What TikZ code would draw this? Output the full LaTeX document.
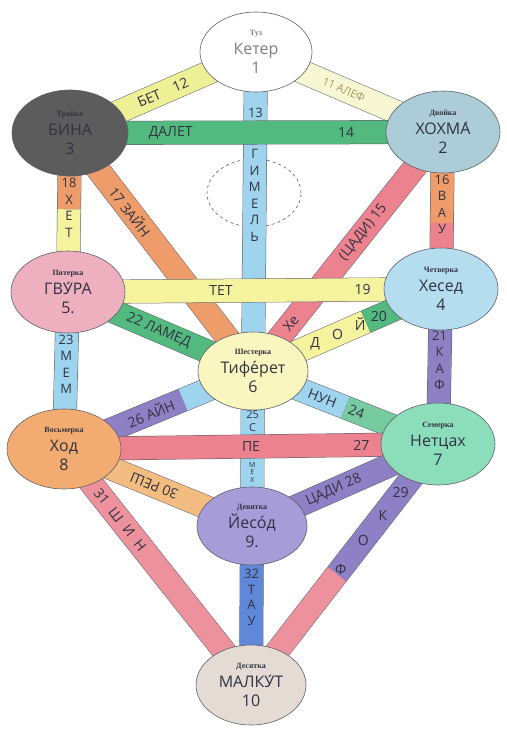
\documentclass[tikz,border=0pt]{standalone}
\usepackage{fontspec}
\setmainfont{Liberation Serif}
\newfontfamily\handfont{Open Sans}
\usetikzlibrary{
  shapes.geometric,
  backgrounds,
  calc
}
\definecolor{inkgray}{RGB}{95,95,105}
\definecolor{handink}{RGB}{50,50,65}
\definecolor{keterink}{RGB}{125,125,135}
\definecolor{alefink}{RGB}{165,155,95}
\definecolor{keterfill}{RGB}{255,255,255}
\definecolor{binafill}{RGB}{92,92,92}
\definecolor{hokhmafill}{RGB}{172,204,216}
\definecolor{hesedfill}{RGB}{180,222,240}
\definecolor{gevurafill}{RGB}{238,176,190}
\definecolor{tiferetfill}{RGB}{250,246,192}
\definecolor{netzahfill}{RGB}{140,222,186}
\definecolor{hodfill}{RGB}{242,172,114}
\definecolor{yesodfill}{RGB}{166,156,216}
\definecolor{malkutfill}{RGB}{228,220,212}
\definecolor{alefcol}{RGB}{247,247,212}
\definecolor{betcol}{RGB}{238,240,150}
\definecolor{skycol}{RGB}{158,212,238}
\definecolor{greencol}{RGB}{82,186,126}
\definecolor{hecol}{RGB}{236,130,142}
\definecolor{orangecol}{RGB}{238,156,106}
\definecolor{yellowcol}{RGB}{246,243,158}
\definecolor{purplecol}{RGB}{142,128,196}
\definecolor{mintcol}{RGB}{118,204,160}
\definecolor{reshcol}{RGB}{243,188,128}
\definecolor{shincol}{RGB}{237,146,156}
\definecolor{taucol}{RGB}{96,136,216}
\tikzset{
  sephira/.style={
    ellipse, draw=inkgray, fill=#1, line width=0.6pt,
    minimum width=114pt, minimum height=82pt, inner sep=0pt,
    align=center, text=handink,
    font=\handfont\fontsize{16}{19}\selectfont
  },
  channel/.style={
    draw=inkgray, line width=0.5pt,
    double=#1, double distance=23pt
  },
  chanlabel/.style={
    font=\handfont\fontsize{14}{16}\selectfont,
    text=handink, inner sep=1pt
  },
  stacklabel/.style={
    chanlabel, align=center,
    font=\handfont\fontsize{13}{16.5}\selectfont
  },
  daatring/.style={
    ellipse, draw=inkgray, dashed, line width=0.6pt,
    minimum width=94pt, minimum height=68pt
  },
}
\newcommand{\sephtitle}[1]{{\rmfamily\bfseries\fontsize{8}{9}\selectfont #1}}

\begin{document}
\begin{tikzpicture}[x=1pt, y=-1pt]
  \useasboundingbox (0,0) rectangle (506,733);

  %% Sephirot
  \node[sephira=keterfill, text=keterink, minimum width=112pt, minimum height=80pt] (K1) at (256,52)
    {\sephtitle{Туз}\\Кетер\\1};
  \node[sephira=hokhmafill] (H2) at (443,132) {\sephtitle{Двойка}\\ХОХМА́\\2};
  \node[sephira=binafill, minimum width=116pt, minimum height=86pt] (B3) at (70,133)
    {\sephtitle{Тройка}\\БИНА\\3};
  \node[sephira=hesedfill] (C4) at (441,289) {\sephtitle{Четверка}\\Хесед\\4};
  \node[sephira=gevurafill] (G5) at (68,292) {\sephtitle{Пятерка}\\ГВУ́РА\\5.};
  \node[sephira=tiferetfill, minimum width=110pt, minimum height=78pt] (T6) at (253,371)
    {\sephtitle{Шестерка}\\Тифе́рет\\6};
  \node[sephira=netzahfill] (N7) at (438,444) {\sephtitle{Семерка}\\Нетцах\\7};
  \node[sephira=hodfill, minimum height=80pt] (O8) at (64,449) {\sephtitle{Восьмерка}\\Ход\\8};
  \node[sephira=yesodfill, minimum width=110pt, minimum height=78pt] (Y9) at (252,526)
    {\sephtitle{Девятка}\\Йесо́д\\9.};
  \node[sephira=malkutfill, minimum width=110pt, minimum height=80pt] (M10) at (251,685)
    {\sephtitle{Десятка}\\МАЛКУ́Т\\10};

  %% split points of two-coloured paths
  \coordinate (khetmid) at ($(B3)!0.48!(G5)$);
  \coordinate (vavmid) at ($(H2)!0.58!(C4)$);
  \coordinate (yodmid) at ($(T6)!0.6!(C4)$);
  \coordinate (nunmid) at ($(T6)!0.5!(N7)$);
  \coordinate (ayinmid) at ($(O8)!0.63!(T6)$);
  \coordinate (qofmid) at ($(N7)!0.54!(M10)$);

  \begin{scope}[on background layer]
    \node[daatring] (daat) at (254,193) {};

    %% upper paths
    \draw[channel=skycol] (K1.center) -- (T6.center)
      node[stacklabel, pos=0.19] {13}
      node[stacklabel, pos=0.45] {Г\\И\\М\\Е\\Л\\Ь};
    \draw[channel=orangecol] (B3.center) -- (T6.center)
      node[chanlabel, sloped, pos=0.33] {17 ЗАЙН};
    \draw[channel=hecol] (H2.center) -- (T6.center)
      node[chanlabel, sloped, pos=0.42] {(ЦАДИ) 15}
      node[chanlabel, sloped, pos=0.8] {Хе};
    \draw[channel=alefcol] (K1.center) -- (H2.center)
      node[chanlabel, sloped, pos=0.47, text=alefink, font=\handfont\fontsize{11}{13}\selectfont] {11 АЛЕФ};
    \draw[channel=betcol] (K1.center) -- (B3.center)
      node[chanlabel, sloped, pos=0.5] {БЕТ\quad 12};
    \draw[channel=greencol] (B3.center) -- (H2.center)
      node[chanlabel, pos=0.27] {ДАЛЕТ}
      node[chanlabel, pos=0.74] {14};

    %% Khet and Vav
    \draw[channel=orangecol] (B3.center) -- (khetmid);
    \draw[channel=yellowcol] (khetmid) -- (G5.center);
    \path (B3.center) -- (G5.center) node[stacklabel, pos=0.47] {18\\Х\\Е\\Т};
    \draw[channel=orangecol] (H2.center) -- (vavmid);
    \draw[channel=hecol] (vavmid) -- (C4.center);
    \path (H2.center) -- (C4.center) node[stacklabel, pos=0.46] {16\\В\\А\\У};

    %% middle paths
    \draw[channel=yellowcol] (G5.center) -- (C4.center)
      node[chanlabel, pos=0.41] {ТЕТ}
      node[chanlabel, pos=0.79] {19};
    \draw[channel=greencol] (G5.center) -- (T6.center)
      node[chanlabel, sloped, pos=0.49] {22 ЛАМЕД};
    \draw[channel=yellowcol] (T6.center) -- (yodmid);
    \draw[channel=greencol] (yodmid) -- (C4.center);
    \path (T6.center) -- (C4.center)
      node[chanlabel, pos=0.33] {Д}
      node[chanlabel, pos=0.45] {О}
      node[chanlabel, pos=0.57] {Й}
      node[chanlabel, pos=0.67] {20};
    \draw[channel=skycol] (G5.center) -- (O8.center)
      node[stacklabel, pos=0.46] {23\\М\\Е\\М};
    \draw[channel=purplecol] (C4.center) -- (N7.center)
      node[stacklabel, pos=0.46] {21\\К\\А\\Ф};
    \draw[channel=skycol] (T6.center) -- (nunmid);
    \draw[channel=mintcol] (nunmid) -- (N7.center);
    \path (T6.center) -- (N7.center)
      node[chanlabel, sloped, pos=0.45] {НУН\quad 24};
    \draw[channel=purplecol] (O8.center) -- (ayinmid);
    \draw[channel=skycol] (ayinmid) -- (T6.center);
    \path (O8.center) -- (T6.center)
      node[chanlabel, sloped, pos=0.46] {26 АЙН};

    %% lower paths
    \draw[channel=skycol] (T6.center) -- (Y9.center)
      node[stacklabel, pos=0.32, font=\handfont\fontsize{11}{13}\selectfont] {25\\С}
      node[stacklabel, pos=0.63, font=\handfont\fontsize{7}{7.5}\selectfont] {А\\М\\Е\\Х};
    \draw[channel=hecol] (O8.center) -- (N7.center)
      node[chanlabel, pos=0.5] {ПЕ}
      node[chanlabel, pos=0.795] {27};
    \draw[channel=purplecol] (Y9.center) -- (N7.center)
      node[chanlabel, sloped, pos=0.44] {ЦАДИ 28};
    \draw[channel=reshcol] (O8.center) -- (Y9.center)
      node[chanlabel, pos=0.48, rotate=158] {30 РЕШ};
    \draw[channel=shincol] (O8.center) -- (M10.center)
      node[chanlabel, sloped, pos=0.3] {31\;\;Ш\;\;И\;\;Н};
    \draw[channel=purplecol] (N7.center) -- (qofmid);
    \draw[channel=shincol] (qofmid) -- (M10.center);
    \path (N7.center) -- (M10.center)
      node[chanlabel, pos=0.2] {29}
      node[chanlabel, pos=0.295] {К}
      node[chanlabel, pos=0.4] {О}
      node[chanlabel, pos=0.52] {Ф};
    \draw[channel=taucol] (Y9.center) -- (M10.center)
      node[stacklabel, pos=0.45, font=\handfont\fontsize{13}{15.5}\selectfont] {32\\Т\\А\\У};
  \end{scope}

\end{tikzpicture}
\end{document}
